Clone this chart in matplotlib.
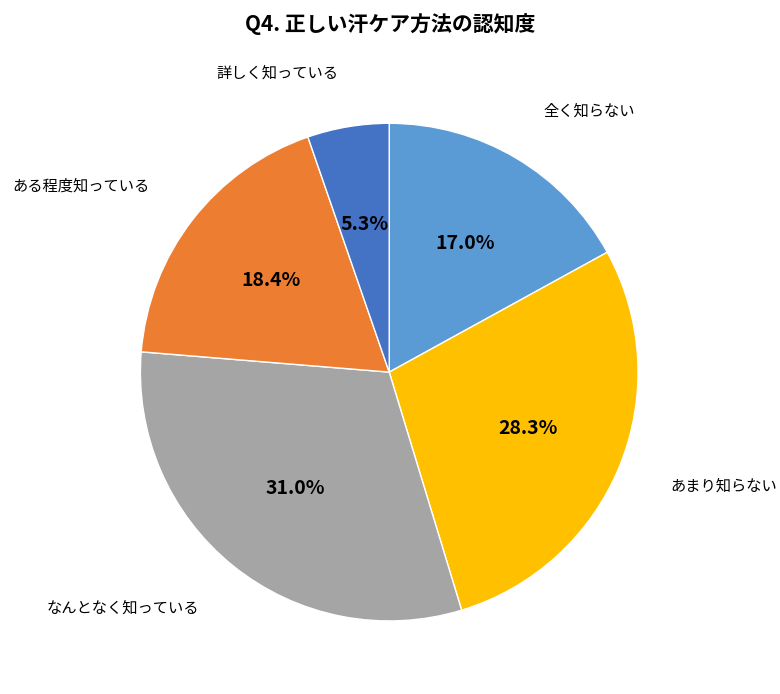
import matplotlib
matplotlib.use("Agg")
import matplotlib.pyplot as plt

plt.rcParams['font.family'] = ['Noto Sans CJK JP', 'DejaVu Sans']

categories = ["全く知らない", "あまり知らない", "なんとなく知っている", "ある程度知っている", "詳しく知っている"]
values = [17.0, 28.3, 31.0, 18.4, 5.3]
colors = ["#5B9BD5", "#FFC000", "#A5A5A5", "#ED7D31", "#4472C4"]

fig = plt.figure(figsize=(7.8, 6.94), dpi=100)
ax = fig.add_axes([0.180, 0.105, 0.638, 0.7176])
wedges, texts, autotexts = ax.pie(values, labels=categories, colors=colors, startangle=90,
                                  counterclock=False, autopct='%1.1f%%', pctdistance=0.6,
                                  labeldistance=1.22, wedgeprops=dict(edgecolor='white', linewidth=1),
                                  textprops=dict(fontsize=11))
for t in autotexts:
    t.set_fontsize(14)
    t.set_fontweight('bold')
ax.set_xlim(-1, 1)
ax.set_ylim(-1, 1)
ax.set_aspect('equal')
fig.text(0.5, 0.965, "Q4. 正しい汗ケア方法の認知度", ha='center', va='center', fontsize=15, fontweight='bold')
fig.savefig("out.png", dpi=100)
